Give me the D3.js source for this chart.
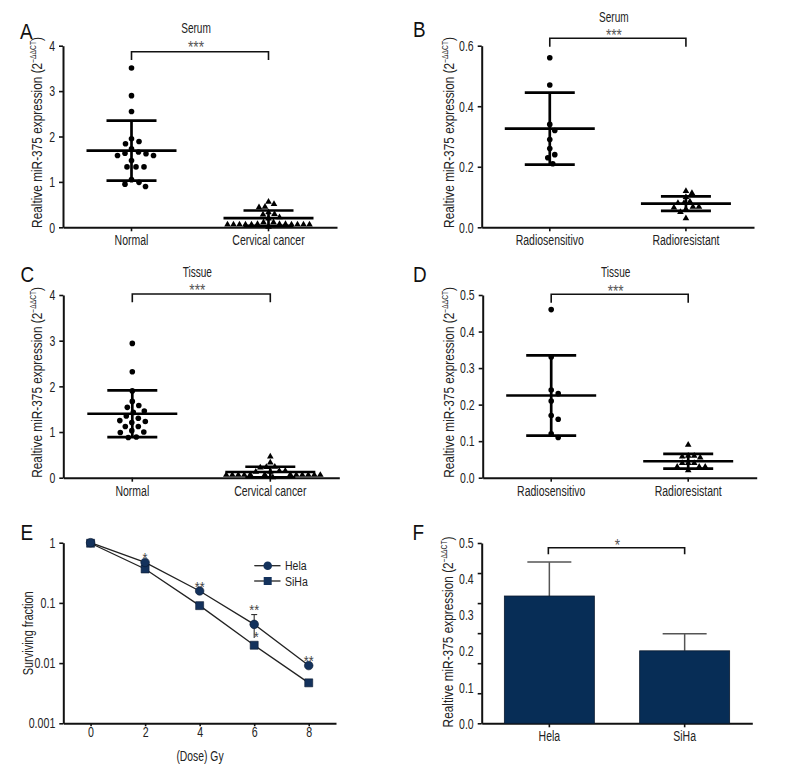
<!DOCTYPE html>
<html><head><meta charset="utf-8">
<script src="https://cdn.jsdelivr.net/npm/d3@7"></script>
<style>
body{margin:0;background:#fff}
svg text{font-family:"Liberation Sans",Arial,sans-serif;}
</style></head>
<body><svg id="c" width="800" height="773"></svg>
<script>
// ---------- DATA ----------
// Panel A (Serum)
const groupsA = ["Normal", "Cervical cancer"];
const serumNormal = [3.51, 2.90, 2.55, 1.95, 1.89, 1.84, 1.73, 1.66, 1.63, 1.62, 1.58, 1.58, 1.47, 1.33, 1.33, 1.33, 1.05, 0.99, 0.95, 0.90];
const serumCancer = [0.56, 0.51, 0.45, 0.44, 0.33, 0.29, 0.28, 0.22, 0.19, 0.11, 0.11, 0.07, 0.07, 0.06, 0.06, 0.06, 0.06, 0.06, 0.06, 0.06, 0.06, 0.06, 0.07, 0.01];
const serumAMean = [1.69, 0.20];
const serumASD = [0.66, 0.17];
const ticksA = [0, 1, 2, 3, 4];

// Panel B (Serum)
const groupsB = ["Radiosensitivo", "Radioresistant"];
const serumSens = [0.56, 0.47, 0.34, 0.32, 0.29, 0.26, 0.24, 0.23, 0.21];
const serumRes = [0.12, 0.113, 0.10, 0.085, 0.08, 0.08, 0.068, 0.068, 0.065, 0.06, 0.05, 0.03];
const serumBMean = [0.326, 0.078];
const serumBSD = [0.119, 0.024];
const ticksB = [0, 0.2, 0.4, 0.6];

// Panel C (Tissue)
const tissueNormal = [2.94, 2.32, 1.90, 1.67, 1.58, 1.54, 1.46, 1.43, 1.35, 1.30, 1.25, 1.23, 1.21, 1.12, 1.12, 1.03, 1.00, 0.99, 0.89, 0.88];
const tissueCancer = [0.46, 0.33, 0.24, 0.23, 0.22, 0.15, 0.15, 0.13, 0.13, 0.07, 0.07, 0.06, 0.06, 0.06, 0.06, 0.06, 0.06, 0.06, 0.06, 0.06, 0.07, 0.01];
const tissueCMean = [1.40, 0.125];
const tissueCSD = [0.51, 0.115];

// Panel D (Tissue)
const tissueSens = [0.46, 0.33, 0.24, 0.23, 0.21, 0.17, 0.16, 0.12, 0.11];
const tissueRes = [0.09, 0.06, 0.06, 0.058, 0.055, 0.04, 0.04, 0.04, 0.03, 0.03, 0.03, 0.02];
const tissueDMean = [0.225, 0.045];
const tissueDSD = [0.11, 0.02];
const ticksD = [0, 0.1, 0.2, 0.3, 0.4, 0.5];

// Panel E (survival)
const doses = [0, 2, 4, 6, 8];
const hela = [1.0, 0.47, 0.158, 0.044, 0.0091];
const siha = [0.98, 0.366, 0.09, 0.0198, 0.0047];
const helaHi = [1.0, 0.47, 0.158, 0.064, 0.0091];
const helaLo = [1.0, 0.47, 0.158, 0.026, 0.0091];
const helaStars = ["", "*", "**", "**", "**"];
const sihaStars = ["", "", "", "*", ""];
const eYTicks = [1, 0.1, 0.01, 0.001];
const eYLabels = ["1", "0.1", "0.01", "0.001"];
const eXTicks = [0, 2, 4, 6, 8];

// Panel F (bars)
const cells = ["Hela", "SiHa"];
const cellMean = [0.353, 0.201];
const cellErr = [0.094, 0.047];
const fLabelTicks = [0, 0.1, 0.2, 0.3, 0.4, 0.5];
const fMarkCount = 7;

// ---------- DRAWING ----------
const svg = d3.select("#c");
const INK = "#111";
const TXT = "#222";

// horizontal condensing of text (Myriad-condensed look)
function cond(sel, s) {
  sel.each(function () {
    const t = d3.select(this);
    const x = +(t.attr("x") || 0);
    const tr = t.attr("transform") || "";
    t.attr("x", x / s).attr("transform", (tr + ` scale(${s},1)`).trim());
  });
  return sel;
}

function styleAxis(g, fs, s) {
  g.attr("font-family", null).attr("font-size", fs);
  g.select(".domain").attr("stroke", INK).attr("stroke-width", 2);
  g.selectAll(".tick line").attr("stroke", INK).attr("stroke-width", 1.6);
  cond(g.selectAll(".tick text").attr("fill", TXT), s);
}

function letter(t, x, y) {
  cond(svg.append("text").attr("x", x).attr("y", y).attr("font-size", 22).attr("fill", "#111").text(t), 0.86);
}

function yTitle(x, y, txt, sup, fs, s) {
  const t = svg.append("text")
    .attr("transform", `translate(${x},${y}) rotate(-90)`)
    .attr("text-anchor", "middle").attr("font-size", fs).attr("fill", TXT);
  t.append("tspan").text(txt);
  if (sup) {
    t.append("tspan").attr("font-size", 8.5).attr("dy", -6).text("−ΔΔCT");
    t.append("tspan").attr("dy", 6).text(")");
  }
  cond(t, s);
}

function swarm(values, cx, y, dist) {
  const placed = [];
  const pts = values.map(v => ({ v, py: y(v) })).sort((a, b) => b.v - a.v);
  for (const p of pts) {
    let off = 0;
    for (let k = 0; k < 400; k++) {
      const o = Math.ceil(k / 2) * 0.5 * (k % 2 ? 1 : -1);
      let ok = true;
      for (const q of placed) {
        const dx = o - q.off, dy = p.py - q.py;
        if (dx * dx + dy * dy < dist * dist) { ok = false; break; }
      }
      if (ok) { off = o; break; }
    }
    p.off = off;
    placed.push(p);
  }
  return placed.map(p => ({ x: cx + p.off, y: p.py }));
}

function bracket(xa, xb, yTop, yBot, starY, starTxt, cxShift) {
  svg.append("path")
    .attr("d", `M${xa},${yBot}V${yTop}H${xb}V${yBot}`)
    .attr("fill", "none").attr("stroke", INK).attr("stroke-width", 1.6);
  cond(svg.append("text").attr("x", (xa + xb) / 2 + cxShift).attr("y", starY + 0.58 * 16)
    .attr("text-anchor", "middle").attr("font-size", 16).attr("fill", "#555").text(starTxt), 0.85);
}

function scatterPanel(o) {
  const x = d3.scaleBand().domain(o.groups).range([o.x0, o.x1]);
  const y = d3.scaleLinear().domain(o.domain).range([o.yb, o.yt]);
  const gx = svg.append("g").attr("transform", `translate(0,${o.yb})`)
    .call(d3.axisBottom(x).tickSize(4).tickSizeOuter(0).tickPadding(3.5));
  styleAxis(gx, 15, 0.7);
  const gy = svg.append("g").attr("transform", `translate(${o.x0},0)`)
    .call(d3.axisLeft(y).tickValues(o.ticks).tickFormat(o.fmt).tickSize(4).tickSizeOuter(0).tickPadding(4));
  styleAxis(gy, 15, 0.7);

  o.series.forEach((vals, i) => {
    const cx = x(o.groups[i]) + x.bandwidth() / 2;
    const pos = swarm(vals, cx, y, i === 0 ? 7.6 : 5.9);
    if (i === 0) {
      svg.append("g").selectAll("circle").data(pos).join("circle")
        .attr("cx", d => d.x).attr("cy", d => d.y).attr("r", 2.8).attr("fill", "#000");
    } else {
      svg.append("g").selectAll("path").data(pos).join("path")
        .attr("transform", d => `translate(${d.x},${d.y})`)
        .attr("d", d3.symbol(d3.symbolTriangle, 19)).attr("fill", "#000");
    }
    const m = o.mean[i], s = o.sd[i];
    const g = svg.append("g").attr("stroke", "#000").attr("stroke-width", 2.7).attr("fill", "none");
    g.append("line").attr("x1", cx - 45).attr("x2", cx + 45).attr("y1", y(m)).attr("y2", y(m));
    g.append("line").attr("x1", cx - 25).attr("x2", cx + 25).attr("y1", y(m + s)).attr("y2", y(m + s));
    g.append("line").attr("x1", cx - 25).attr("x2", cx + 25).attr("y1", y(Math.max(0, m - s))).attr("y2", y(Math.max(0, m - s)));
    g.append("line").attr("x1", cx).attr("x2", cx).attr("y1", y(m + s)).attr("y2", y(Math.max(0, m - s)));
  });

  const xa = x(o.groups[0]) + x.bandwidth() / 2, xb = x(o.groups[1]) + x.bandwidth() / 2;
  cond(svg.append("text").attr("x", (xa + xb) / 2 - 4).attr("y", o.titleY).attr("text-anchor", "middle")
    .attr("font-size", 14).attr("fill", TXT).text(o.title), 0.72);
  bracket(xa, xb, o.brTop, o.brBot, o.starY, "***", -4);
  letter(o.letter, o.lx, o.ly);
  yTitle(o.ytx, (o.yb + o.yt) / 2 - 4, "Realtive miR-375 expression (2", true, 15, 0.79);
}

const f1 = d3.format("d"), f2 = d3.format(".1f");

scatterPanel({ groups: groupsA, series: [serumNormal, serumCancer], mean: serumAMean, sd: serumASD,
  x0: 63, x1: 337, yb: 227.3, yt: 45.7, domain: [0, 4], ticks: ticksA, fmt: f1,
  title: "Serum", titleY: 33.3, starY: 44, brTop: 51.7, brBot: 60, letter: "A", lx: 20, ly: 39.3, ytx: 41.5 });

scatterPanel({ groups: groupsB, series: [serumSens, serumRes], mean: serumBMean, sd: serumBSD,
  x0: 481.7, x1: 754, yb: 227.3, yt: 45.7, domain: [0, 0.6], ticks: ticksB, fmt: f2,
  title: "Serum", titleY: 21.7, starY: 31.7, brTop: 38.3, brBot: 46.7, letter: "B", lx: 413, ly: 37.3, ytx: 454 });

scatterPanel({ groups: groupsA, series: [tissueNormal, tissueCancer], mean: tissueCMean, sd: tissueCSD,
  x0: 63.3, x1: 339.3, yb: 477.7, yt: 295, domain: [0, 4], ticks: ticksA, fmt: f1,
  title: "Tissue", titleY: 276.7, starY: 286.7, brTop: 294, brBot: 302.3, letter: "C", lx: 20.5, ly: 281.7, ytx: 41.7 });

scatterPanel({ groups: groupsB, series: [tissueSens, tissueRes], mean: tissueDMean, sd: tissueDSD,
  x0: 482.7, x1: 756.7, yb: 477.7, yt: 295, domain: [0, 0.5], ticks: ticksD, fmt: f2,
  title: "Tissue", titleY: 277.3, starY: 287.3, brTop: 294.3, brBot: 302.7, letter: "D", lx: 413, ly: 281.7, ytx: 454 });

// ---------- Panel E ----------
(function () {
  const x = d3.scaleLinear().domain([-1, 9]).range([63.3, 336]);
  const y = d3.scaleLog().domain([0.001, 1]).range([723.3, 542.7]);
  const gx = svg.append("g").attr("transform", "translate(0,723.3)")
    .call(d3.axisBottom(x).tickValues(eXTicks).tickSize(3).tickSizeOuter(0).tickPadding(0.5));
  styleAxis(gx, 14, 0.76);
  const gy = svg.append("g").attr("transform", "translate(63.3,0)")
    .call(d3.axisLeft(y).tickValues(eYTicks).tickFormat(d => eYLabels[eYTicks.indexOf(d)])
      .tickSize(4).tickSizeOuter(0).tickPadding(4));
  styleAxis(gy, 14, 0.76);

  const line = d3.line().x((d, i) => x(doses[i])).y(d => y(d));
  svg.append("path").attr("d", line(siha)).attr("fill", "none").attr("stroke", "#222").attr("stroke-width", 1.3);
  svg.append("path").attr("d", line(hela)).attr("fill", "none").attr("stroke", "#222").attr("stroke-width", 1.3);

  // error bars
  const eg = svg.append("g").attr("stroke", "#333").attr("stroke-width", 1.1);
  doses.forEach((d, i) => {
    if (helaHi[i] === helaLo[i]) return;
    const cx = x(d);
    eg.append("line").attr("x1", cx).attr("x2", cx).attr("y1", y(helaHi[i])).attr("y2", y(helaLo[i]));
    eg.append("line").attr("x1", cx - 3).attr("x2", cx + 3).attr("y1", y(helaHi[i])).attr("y2", y(helaHi[i]));
  });

  const MK = "#14325c";
  svg.append("g").selectAll("path").data(siha).join("path")
    .attr("transform", (d, i) => `translate(${x(doses[i])},${y(d)})`)
    .attr("d", d3.symbol(d3.symbolSquare, 64)).attr("fill", MK).attr("stroke", "#0a1a30").attr("stroke-width", 0.6);
  svg.append("g").selectAll("circle").data(hela).join("circle")
    .attr("cx", (d, i) => x(doses[i])).attr("cy", d => y(d)).attr("r", 4.3)
    .attr("fill", MK).attr("stroke", "#0a1a30").attr("stroke-width", 0.6);

  // stars
  cond(svg.append("g").selectAll("text").data(helaStars).join("text")
    .attr("x", (d, i) => x(doses[i])).attr("y", (d, i) => y(helaHi[i]) - 8 + 0.58 * 15)
    .attr("text-anchor", "middle").attr("font-size", 15).attr("fill", "#444").text(d => d), 0.85);
  cond(svg.append("g").selectAll("text").data(sihaStars).join("text")
    .attr("x", (d, i) => x(doses[i]) + 2).attr("y", (d, i) => y(siha[i]) - 12 + 0.58 * 15)
    .attr("text-anchor", "middle").attr("font-size", 15).attr("fill", "#444").text(d => d), 0.85);

  // legend
  const lg = svg.append("g");
  [["Hela", 565.7, "circle"], ["SiHa", 581, "square"]].forEach(([name, ly, shape]) => {
    lg.append("line").attr("x1", 254.3).attr("x2", 280.5).attr("y1", ly).attr("y2", ly).attr("stroke", "#222").attr("stroke-width", 1.3);
    if (shape === "circle") lg.append("circle").attr("cx", 267.7).attr("cy", ly).attr("r", 4.3).attr("fill", MK);
    else lg.append("path").attr("transform", `translate(267.7,${ly})`).attr("d", d3.symbol(d3.symbolSquare, 64)).attr("fill", MK);
    cond(lg.append("text").attr("x", 285).attr("y", ly + 4.8).attr("font-size", 13.5).attr("fill", TXT).text(name), 0.78);
  });

  cond(svg.append("text").attr("x", 200).attr("y", 761.5).attr("text-anchor", "middle").attr("font-size", 14).attr("fill", TXT).text("(Dose) Gy"), 0.74);
  yTitle(33.3, 633.3, "Surviving fraction", false, 15, 0.73);
  letter("E", 20.5, 540);
})();

// ---------- Panel F ----------
(function () {
  const x = d3.scaleBand().domain(cells).range([481.7, 752.3]);
  const y = d3.scaleLinear().domain([0, 0.5]).range([723.3, 543]);
  const gx = svg.append("g").attr("transform", "translate(0,723.3)")
    .call(d3.axisBottom(x).tickSize(4).tickSizeOuter(0).tickPadding(3.5));
  styleAxis(gx, 15, 0.7);
  // tick marks (7 evenly spaced, no labels)
  const marks = d3.range(fMarkCount).map(i => 0.5 * i / (fMarkCount - 1));
  const gm = svg.append("g").attr("transform", "translate(481.7,0)")
    .call(d3.axisLeft(y).tickValues(marks).tickFormat("").tickSize(4).tickSizeOuter(0));
  styleAxis(gm, 15, 0.7);
  // tick labels
  const gl = svg.append("g").attr("transform", "translate(481.7,0)")
    .call(d3.axisLeft(y).tickValues(fLabelTicks).tickFormat(d3.format(".1f")).tickSize(0).tickPadding(8).tickSizeOuter(0));
  styleAxis(gl, 15, 0.7);
  gl.select(".domain").remove();

  const bw = 90;
  // error bars
  const eg = svg.append("g").attr("stroke", "#555").attr("stroke-width", 1.5);
  cells.forEach((c, i) => {
    const cx = x(c) + x.bandwidth() / 2;
    eg.append("line").attr("x1", cx).attr("x2", cx).attr("y1", y(cellMean[i])).attr("y2", y(cellMean[i] + cellErr[i]));
    eg.append("line").attr("x1", cx - 22).attr("x2", cx + 22).attr("y1", y(cellMean[i] + cellErr[i])).attr("y2", y(cellMean[i] + cellErr[i]));
  });
  svg.append("g").selectAll("rect").data(cells).join("rect")
    .attr("x", d => x(d) + x.bandwidth() / 2 - bw / 2).attr("width", bw)
    .attr("y", (d, i) => y(cellMean[i])).attr("height", (d, i) => y(0) - y(cellMean[i]))
    .attr("fill", "#072d56").attr("stroke", "#0b1a2e").attr("stroke-width", 0.8);

  const xa = x(cells[0]) + x.bandwidth() / 2 - 1, xb = x(cells[1]) + x.bandwidth() / 2;
  bracket(xa, xb, 547.7, 554.3, 541.7, "*", 1);
  yTitle(453, 632, "Realtive miR-375 expression (2", true, 15, 0.79);
  letter("F", 412.5, 540);
})();
</script>
</body></html>
